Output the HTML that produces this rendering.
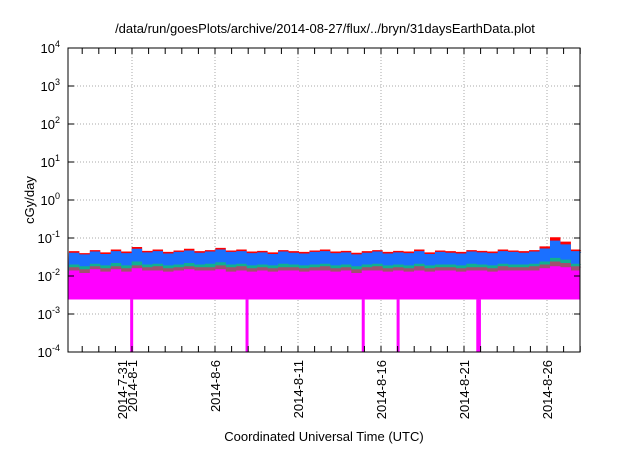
<!DOCTYPE html>
<html><head><meta charset="utf-8"><style>
body{margin:0;background:#fff;}
svg text{font-family:"Liberation Sans",sans-serif;fill:#000;}
</style></head><body>
<svg id="chart" width="640" height="448" viewBox="0 0 640 448" xmlns="http://www.w3.org/2000/svg">
<text x="325" y="33" font-size="13" text-anchor="middle">/data/run/goesPlots/archive/2014-08-27/flux/../bryn/31daysEarthData.plot</text>
<text transform="translate(34,200) rotate(-90)" font-size="13" text-anchor="middle">cGy/day</text>
<text x="324" y="441" font-size="13" text-anchor="middle">Coordinated Universal Time (UTC)</text>
<g id="grid"></g><g id="series"></g><g id="axes"></g>
<rect x="68" y="48" width="512" height="304" fill="none" stroke="#000" stroke-width="1"/>
</svg>
<script>
const yTicks=[-4,-3,-2,-1,0,1,2,3,4];
const xLabels=["2014-7-31","2014-8-1","2014-8-6","2014-8-11","2014-8-16","2014-8-21","2014-8-26"];
const xLabelDays=[-0.6,0,5,10,15,20,25];
const dStart=-3.8, dStep=0.63;
const red=[0.045,0.04,0.048,0.042,0.05,0.044,0.058,0.046,0.05,0.043,0.047,0.052,0.045,0.048,0.055,0.047,0.05,0.044,0.046,0.042,0.048,0.045,0.043,0.047,0.05,0.044,0.046,0.041,0.045,0.048,0.043,0.046,0.044,0.05,0.042,0.047,0.045,0.043,0.048,0.046,0.044,0.05,0.047,0.045,0.048,0.06,0.105,0.08,0.05,0.045];
const blue=[0.041,0.037,0.044,0.038,0.045,0.04,0.052,0.042,0.045,0.039,0.043,0.047,0.041,0.044,0.05,0.043,0.045,0.04,0.042,0.038,0.044,0.041,0.039,0.043,0.045,0.04,0.042,0.037,0.041,0.044,0.039,0.042,0.04,0.045,0.038,0.043,0.041,0.039,0.044,0.042,0.04,0.045,0.043,0.041,0.044,0.053,0.085,0.068,0.045,0.041];
const teal=[0.02,0.018,0.021,0.019,0.022,0.019,0.024,0.02,0.021,0.019,0.02,0.022,0.02,0.021,0.023,0.02,0.021,0.019,0.02,0.019,0.021,0.02,0.019,0.02,0.021,0.019,0.02,0.018,0.02,0.021,0.019,0.02,0.019,0.021,0.019,0.02,0.02,0.019,0.021,0.02,0.019,0.021,0.02,0.02,0.021,0.024,0.03,0.027,0.021,0.02];
const brown=[0.017,0.015,0.018,0.016,0.018,0.016,0.019,0.017,0.018,0.016,0.017,0.018,0.017,0.017,0.019,0.017,0.018,0.016,0.017,0.016,0.017,0.017,0.016,0.017,0.018,0.016,0.017,0.015,0.017,0.018,0.016,0.017,0.016,0.018,0.016,0.017,0.017,0.016,0.017,0.017,0.016,0.018,0.017,0.017,0.018,0.02,0.024,0.022,0.018,0.017];
const magenta=[0.014,0.012,0.015,0.013,0.015,0.013,0.016,0.014,0.014,0.013,0.014,0.015,0.014,0.014,0.015,0.013,0.014,0.013,0.014,0.013,0.014,0.014,0.013,0.014,0.014,0.013,0.014,0.012,0.014,0.014,0.013,0.014,0.013,0.014,0.013,0.014,0.014,0.013,0.014,0.014,0.013,0.014,0.014,0.014,0.014,0.016,0.018,0.017,0.014,0.014];
const floorVal=[0.0024];
const dropDays=[-0.05,6.9,13.9,16.0,20.8,20.9];
const X0=68,X1=580,Y0=352,Y1=48;
function xs(d){return 132+d*16.6;}
function ys(v){return Y0-(Math.log10(v)+4)*(Y0-Y1)/8;}
const NS="http://www.w3.org/2000/svg";
function mk(t,a,p){const e=document.createElementNS(NS,t);for(const k in a)e.setAttribute(k,a[k]);p.appendChild(e);return e;}
const grid=document.getElementById('grid'),axes=document.getElementById('axes'),ser=document.getElementById('series');
yTicks.forEach(t=>{const y=Y0-(t+4)*38;
 const g=mk('line',{x1:X0,x2:X1,y1:y,y2:y,stroke:'#aaa','stroke-dasharray':'1,2'},grid);
 
 mk('line',{x1:X0,x2:X0+6,y1:y,y2:y,stroke:'#000'},axes);mk('line',{x1:X1,x2:X1-6,y1:y,y2:y,stroke:'#000'},axes);
 const tx=mk('text',{x:X0-8,y:y+5,'font-size':'13','text-anchor':'end'},axes);
 
 tx.innerHTML='10<tspan dy="-6" font-size="9">'+t+'</tspan>';});
for(let d=-3;d<=27;d++){const x=xs(d);mk('line',{x1:x,x2:x,y1:Y0,y2:Y0-6,stroke:'#000'},axes);mk('line',{x1:x,x2:x,y1:Y1,y2:Y1+6,stroke:'#000'},axes);}
xLabels.forEach((l,i)=>{const x=xs(xLabelDays[i]);
 if(i>0){const g=mk('line',{x1:x,x2:x,y1:Y1,y2:Y0,stroke:'#aaa','stroke-dasharray':'1,2'},grid);
 }
 const t=mk('text',{transform:`translate(${x+5},${Y0+8}) rotate(-90)`,'font-size':'13','text-anchor':'end'},axes);
 t.textContent=l;});
function area(top,col,name){let p=`M${X0},${ys(floorVal[0])}`;
 top.forEach((v,i)=>{const xa=Math.max(X0,xs(dStart+i*dStep)),xb=Math.min(X1,xs(dStart+(i+1)*dStep));p+=`L${xa},${ys(v)}L${xb},${ys(v)}`;});
 p+=`L${X1},${ys(floorVal[0])}Z`;
 const e=mk('path',{d:p,fill:col},ser);}
area(red,'#ff0000','series-red');area(blue,'#1a70ff','series-blue');area(teal,'#10b090','series-teal');area(brown,'#a05070','series-brown');area(magenta,'#ff00ff','series-magenta');
dropDays.forEach(d=>{const e=mk('rect',{x:xs(d)-1,y:ys(floorVal[0]),width:3,height:Y0-ys(floorVal[0]),fill:'#ff00ff'},ser);
 });
</script>
</body></html>
